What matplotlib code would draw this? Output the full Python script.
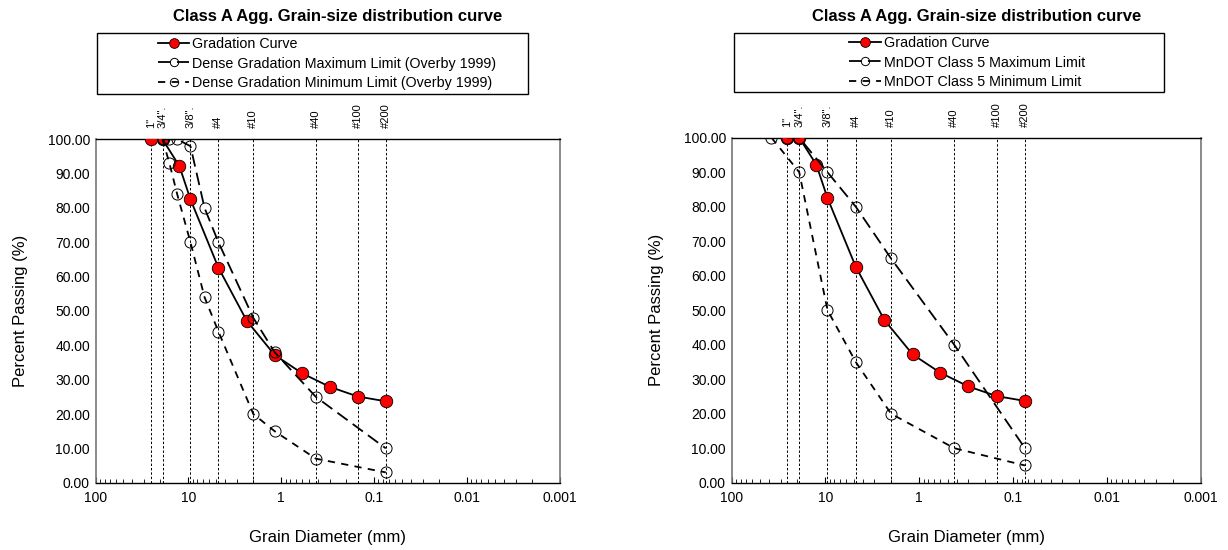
import matplotlib
matplotlib.use("Agg")
import matplotlib.pyplot as plt
from matplotlib.patches import Rectangle
from matplotlib.lines import Line2D
from matplotlib.ticker import FixedLocator, FuncFormatter, LogLocator, NullFormatter

plt.rcParams['font.family'] = ['Liberation Sans', 'DejaVu Sans']

# ------------------------------------------------------------
# Data
# ------------------------------------------------------------
sieve_sizes = [25.4, 19.0, 9.5, 4.75, 2.0, 0.425, 0.15, 0.075]
sieve_labels = ['1"', '3/4".', '3/8".', '#4', '#10', '#40', '#100', '#200']

grad_sizes = [25.4, 19.0, 12.5, 9.5, 4.75, 2.36, 1.18, 0.6, 0.3, 0.15, 0.075]
grad_passing = [100, 100, 92.2, 82.5, 62.6, 47.2, 37.2, 31.9, 27.9, 25.1, 23.7]

overby_sizes = [19.0, 16.0, 13.2, 9.5, 6.7, 4.75, 2.0, 1.18, 0.425, 0.075]
overby_max = [100, 100, 100, 98, 80, 70, 48, 38, 25, 10]
overby_min = [100, 93, 84, 70, 54, 44, 20, 15, 7, 3]

mndot_max_sizes = [25.4, 19.0, 9.5, 4.75, 2.0, 0.425, 0.075]
mndot_max = [100, 100, 90, 80, 65, 40, 10]
mndot_min_sizes = [37.5, 19.0, 9.5, 4.75, 2.0, 0.425, 0.075]
mndot_min = [100, 90, 50, 35, 20, 10, 5]

title = "Class A Agg. Grain-size distribution curve"
labels_left = ["Gradation Curve",
               "Dense Gradation Maximum Limit (Overby 1999)",
               "Dense Gradation Minimum Limit (Overby 1999)"]
labels_right = ["Gradation Curve",
                "MnDOT Class 5 Maximum Limit",
                "MnDOT Class 5 Minimum Limit"]

# ------------------------------------------------------------
# Styles
# ------------------------------------------------------------
W, H = 1228, 550
GRAD_STYLE = dict(color='black', lw=1.3, marker='o', ms=9,
                  mfc='red', mec='black', mew=0.6)
MAX_STYLE = dict(color='black', lw=1.3, dashes=(7, 3.5), marker='o', ms=8,
                 mfc='none', mec='black', mew=0.7)
MIN_STYLE = dict(color='black', lw=1.3, dashes=(4, 3.5), marker='o', ms=8,
                 mfc='none', mec='black', mew=0.7)


def px_rect(x0, x1, y_top, y_bot):
    return [x0 / W, (H - y_bot) / H, (x1 - x0) / W, (y_bot - y_top) / H]


def draw_panel(fig, rect, max_x, max_y, min_x, min_y, labels,
               leg_box, leg_center, title_xy):
    ax = fig.add_axes(rect)

    for s, lab in zip(sieve_sizes, sieve_labels):
        ax.plot([s, s], [0, 100], color='black', lw=0.7, dashes=(2.5, 2),
                zorder=1)
        ax.annotate(lab, xy=(s, 100), xytext=(0, 8), textcoords='offset points',
                    rotation=90, ha='center', va='bottom', fontsize=8,
                    annotation_clip=False)

    ax.plot(grad_sizes, grad_passing, zorder=3, **GRAD_STYLE)
    ax.plot(max_x, max_y, zorder=4, **MAX_STYLE)
    ax.plot(min_x, min_y, zorder=5, **MIN_STYLE)

    ax.set_xscale('log')
    ax.set_xlim(100, 0.001)
    ax.set_ylim(0, 100)
    ax.xaxis.set_major_locator(FixedLocator([100, 10, 1, 0.1, 0.01, 0.001]))
    ax.xaxis.set_major_formatter(FuncFormatter(lambda v, p: '%g' % v))
    ax.xaxis.set_minor_locator(LogLocator(base=10, subs=range(2, 10), numticks=20))
    ax.xaxis.set_minor_formatter(NullFormatter())
    ax.tick_params(axis='x', which='major', direction='in', length=4,
                   labelsize=10, pad=6)
    ax.tick_params(axis='x', which='minor', direction='in', length=3)
    ax.set_yticks(range(0, 101, 10))
    ax.yaxis.set_major_formatter(FuncFormatter(lambda v, p: '%.2f' % v))
    ax.tick_params(axis='y', length=0, labelsize=10, pad=4)

    for side in ('left', 'right'):
        ax.spines[side].set_color('#777777')
        ax.spines[side].set_linewidth(1.2)
    for side in ('top', 'bottom'):
        ax.spines[side].set_color('black')
        ax.spines[side].set_linewidth(1.0)

    ax.set_xlabel("Grain Diameter (mm)", fontsize=12, labelpad=18)
    ax.set_ylabel("Percent Passing (%)", fontsize=12, labelpad=14)

    # legend box + entries
    bx0, bx1, by0, by1 = leg_box
    fig.patches.append(Rectangle((bx0 / W, (H - by1) / H), (bx1 - bx0) / W,
                                 (by1 - by0) / H, transform=fig.transFigure,
                                 fill=False, edgecolor='black', lw=1.0))
    handles = [Line2D([], [], **GRAD_STYLE),
               Line2D([], [], **MAX_STYLE),
               Line2D([], [], **MIN_STYLE)]
    for h in handles[1:]:
        h.set_markersize(6)
    handles[0].set_markersize(7)
    fig.legend(handles, labels, loc='center',
               bbox_to_anchor=(leg_center / W, 1 - ((by0 + by1) / 2) / H),
               frameon=False, fontsize=10.3, handlelength=2.2,
               handletextpad=0.2, labelspacing=0.35)

    fig.text(title_xy[0] / W, 1 - title_xy[1] / H, title, ha='center',
             va='center', fontsize=12, fontweight='bold')
    return ax


fig = plt.figure(figsize=(W / 100, H / 100), dpi=100)

draw_panel(fig, px_rect(95.5, 560, 139.3, 482.7),
           overby_sizes, overby_max, overby_sizes, overby_min, labels_left,
           (97, 528, 33, 94), 327, (338, 17))
draw_panel(fig, px_rect(731.5, 1201, 137.7, 482.7),
           mndot_max_sizes, mndot_max, mndot_min_sizes, mndot_min, labels_right,
           (734, 1164, 33, 92), 967, (977, 16))

fig.savefig("out.png", dpi=100)
